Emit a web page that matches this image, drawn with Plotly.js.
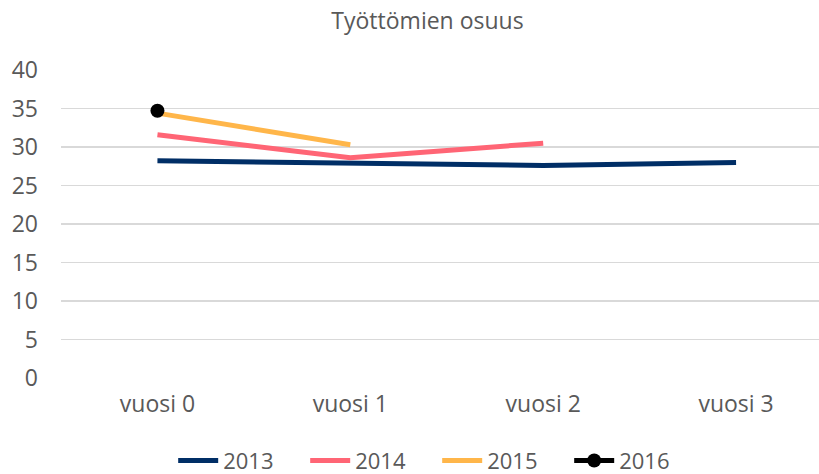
<!DOCTYPE html>
<html>
<head>
<meta charset="utf-8">
<script src="https://cdn.plot.ly/plotly-3.0.1.min.js"></script>
<style>html,body{margin:0;padding:0;background:#fff;}#chart{width:819px;height:474px;}</style>
</head>
<body>
<div id="chart"></div>
<script>
const categories = ["vuosi 0", "vuosi 1", "vuosi 2", "vuosi 3"];
const s2013 = [28.2, 27.85, 27.6, 28.0];
const s2014 = [31.6, 28.6, 30.5];
const s2015 = [34.4, 30.3];
const s2016 = [34.7];
const seriesNames = ["2013", "2014", "2015", "2016"];
const colors = ["#002E66", "#FF6575", "#FFB64A", "#000000"];

const font = "'Open Sans', sans-serif";
const all = [s2013, s2014, s2015, s2016];
const traces = all.map((vals, i) => ({
  type: "scatter",
  mode: i === 3 ? "lines+markers" : "lines",
  name: seriesNames[i],
  x: categories.slice(0, vals.length),
  y: vals,
  line: {color: colors[i], width: 5},
  marker: {color: colors[i], size: 14},
  cliponaxis: false
}));

const layout = {
  width: 819, height: 474,
  margin: {l: 61, r: 0, t: 70, b: 96},
  paper_bgcolor: "#fff", plot_bgcolor: "#fff",
  title: {text: "Työttömien osuus", x: 0.522, xanchor: "center", y: 0.955, yanchor: "middle",
          font: {family: font, size: 23, color: "#595959"}},
  xaxis: {type: "category", categoryarray: categories, range: [-0.5, 3.43],
          showgrid: false, zeroline: false, showline: false, ticks: "", ticklabelstandoff: 10,
          tickfont: {family: font, size: 23, color: "#595959"}, fixedrange: true, automargin: false},
  yaxis: {range: [0, 40], dtick: 5, showgrid: true, gridcolor: "#D9D9D9", gridwidth: 1.3,
          zeroline: false, showline: false, ticks: "", ticklabelstandoff: 22, automargin: false,
          tickfont: {family: font, size: 23, color: "#595959"}},
  legend: {orientation: "h", x: 0.148, xanchor: "left", yref: "container", y: 0.028, yanchor: "middle",
           entrywidth: 77, entrywidthmode: "pixels",
           font: {family: font, size: 22, color: "#595959"}, itemwidth: 40, tracegroupgap: 0},
  showlegend: true
};
Plotly.newPlot("chart", traces, layout, {displayModeBar: false, staticPlot: true});
</script>
</body>
</html>
